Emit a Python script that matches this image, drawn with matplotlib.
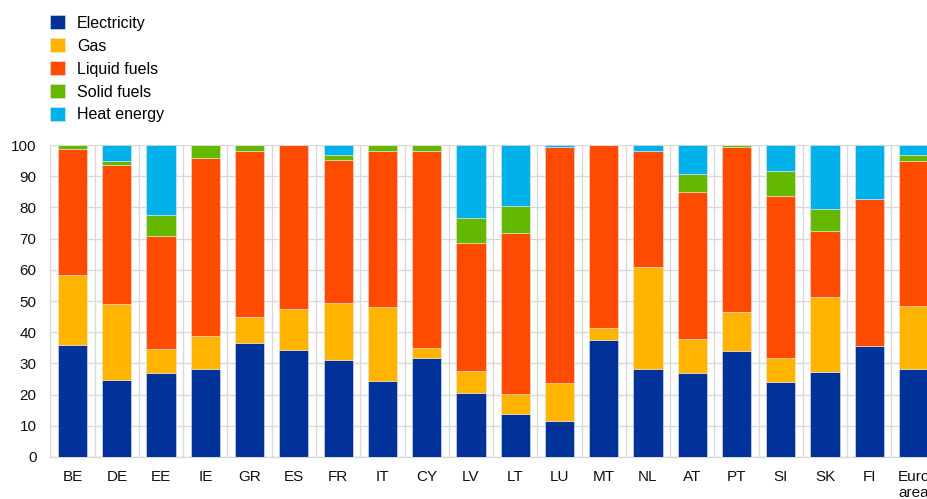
import numpy as np
import matplotlib.pyplot as plt

plt.rcParams['font.family'] = ['Liberation Sans', 'DejaVu Sans']

countries = ['BE', 'DE', 'EE', 'IE', 'GR', 'ES', 'FR', 'IT', 'CY', 'LV',
             'LT', 'LU', 'MT', 'NL', 'AT', 'PT', 'SI', 'SK', 'FI', 'Euro\narea']

electricity = [36.0, 24.7, 26.8, 28.2, 36.7, 34.2, 31.2, 24.4, 31.8, 20.5,
               13.7, 11.6, 37.6, 28.2, 27.0, 34.0, 24.2, 27.3, 35.5, 28.2]
gas = [22.3, 24.4, 7.7, 10.7, 8.1, 13.2, 18.1, 23.6, 3.1, 7.2,
       6.5, 12.1, 3.7, 32.8, 10.8, 12.5, 7.4, 24.0, 0.0, 20.2]
liquid_fuels = [40.5, 44.4, 36.5, 57.0, 53.2, 52.6, 46.0, 50.0, 63.1, 41.0,
                51.7, 75.7, 58.7, 37.2, 47.3, 52.8, 52.1, 21.0, 47.1, 46.6]
solid_fuels = [1.2, 1.5, 6.6, 4.1, 2.0, 0.0, 1.6, 2.0, 2.0, 7.8,
               8.7, 0.0, 0.0, 0.0, 5.6, 0.7, 7.9, 7.2, 0.0, 1.7]
heat_energy = [0.0, 5.0, 22.4, 0.0, 0.0, 0.0, 3.1, 0.0, 0.0, 23.5,
               19.4, 0.6, 0.0, 1.8, 9.3, 0.0, 8.4, 20.5, 17.4, 3.3]

series = [('Electricity', electricity, '#003299'),
          ('Gas', gas, '#FFB400'),
          ('Liquid fuels', liquid_fuels, '#FF4B00'),
          ('Solid fuels', solid_fuels, '#65B800'),
          ('Heat energy', heat_energy, '#00B1EA')]

fig = plt.figure(figsize=(9.27, 4.99), dpi=100)
ax = fig.add_axes([0.0544, 0.0842, 0.955, 0.625])

x = np.arange(len(countries))
bottom = np.zeros(len(countries))
for name, vals, col in series:
    vals = np.array(vals)
    ax.bar(x, vals, width=0.66, bottom=bottom, color=col, label=name,
           edgecolor='#e6e6e6', linewidth=0.4, zorder=3)
    bottom += vals

ax.set_xlim(-0.5, len(countries) - 0.5)
ax.set_ylim(0, 100)
ax.set_yticks(np.arange(0, 101, 10))
ax.set_xticks(x)
ax.set_xticklabels(countries)
ax.set_xticks(np.arange(-0.5, len(countries)), minor=True)
ax.tick_params(axis='both', which='both', length=0, labelsize=11, colors='#111111')
ax.tick_params(axis='y', pad=10)
ax.tick_params(axis='x', pad=9.5)
ax.grid(axis='y', which='major', color='#d9d9d9', linewidth=1.0, zorder=0)
ax.grid(axis='x', which='minor', color='#d9d9d9', linewidth=1.0, zorder=0)
ax.set_axisbelow(True)
for s in ['top', 'right', 'left']:
    ax.spines[s].set_visible(False)
ax.spines['bottom'].set_color('#d9d9d9')
ax.spines['bottom'].set_linewidth(1.0)

fig.text(0.003, 1.009, '(percentages of total expenditure on energy)',
         color='#6f8fd8', fontsize=10.5, va='baseline')

fig.legend(loc='upper left', bbox_to_anchor=(0.054, 0.969), frameon=False,
           fontsize=11.5, handlelength=0.95, handleheight=0.95,
           handletextpad=0.75, labelspacing=0.47, borderpad=0, borderaxespad=0)

plt.savefig('out.png', dpi=100)
